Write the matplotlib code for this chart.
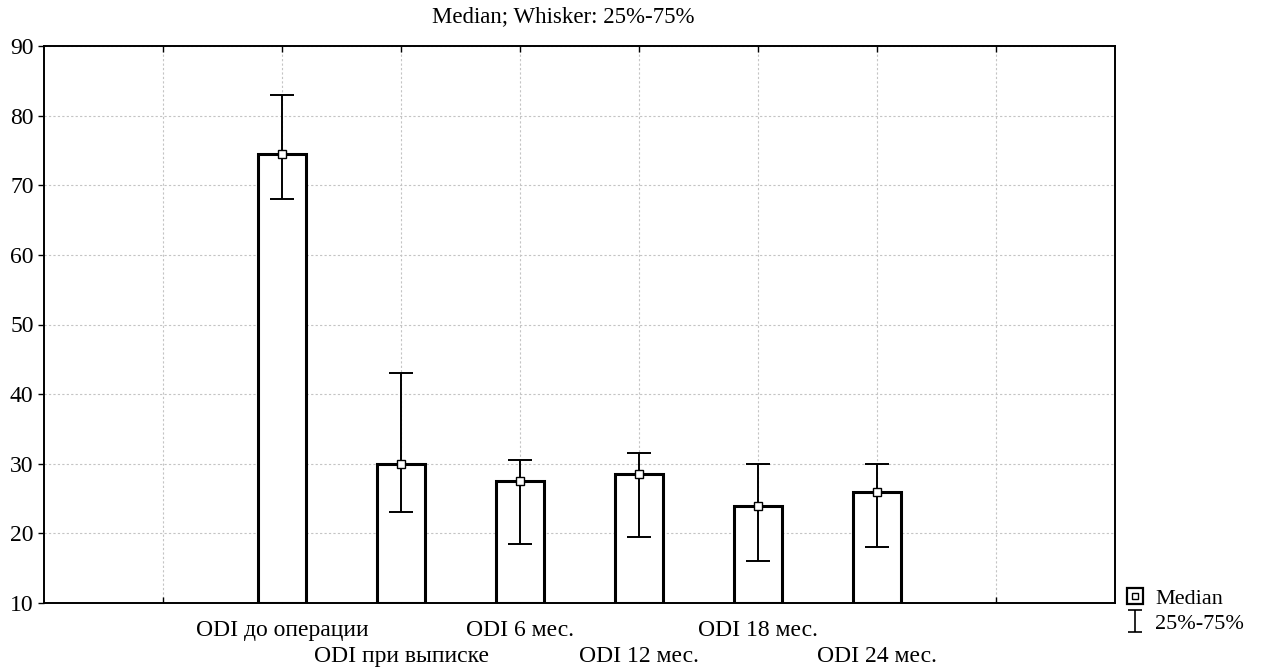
import matplotlib
matplotlib.use("Agg")
import matplotlib.pyplot as plt
from matplotlib.lines import Line2D
from matplotlib.path import Path
from matplotlib.legend_handler import HandlerTuple

plt.rcParams['font.family'] = ['Liberation Serif', 'DejaVu Serif']

categories = ["ODI до операции", "ODI при выписке", "ODI 6 мес.",
              "ODI 12 мес.", "ODI 18 мес.", "ODI 24 мес."]
medians = [74.5, 30.0, 27.5, 28.5, 24.0, 26.0]
q25 = [68.0, 23.0, 18.5, 19.5, 16.0, 18.0]
q75 = [83.0, 43.0, 30.5, 31.5, 30.0, 30.0]
y_ticks = [10, 20, 30, 40, 50, 60, 70, 80, 90]

fig = plt.figure(figsize=(12.62, 6.69), dpi=100)
ax = fig.add_axes([44/1262, 66/669, (1115-44)/1262, (603-46)/669])

x = list(range(2, 2 + len(categories)))
base = 10
ax.bar(x, [m - base for m in medians], bottom=base, width=0.4,
       facecolor='white', edgecolor='black', linewidth=2.2, zorder=3)
yerr = [[m - lo for m, lo in zip(medians, q25)], [hi - m for m, hi in zip(medians, q75)]]
ax.errorbar(x, medians, yerr=yerr, fmt='none', ecolor='black', elinewidth=1.4,
            capsize=8.5, capthick=1.4, zorder=4)
ax.plot(x, medians, linestyle='none', marker='s', markersize=6,
        markerfacecolor='white', markeredgecolor='black', markeredgewidth=1.0, zorder=5)

ax.set_xlim(0, 9)
ax.set_ylim(10, 90)
ax.set_yticks(y_ticks)

# first row of labels on major ticks, second row on minor ticks
major_pos = [1] + x[0::2] + [8]
major_lab = [""] + categories[0::2] + [""]
minor_pos = x[1::2]
minor_lab = categories[1::2]
ax.set_xticks(major_pos)
ax.set_xticklabels(major_lab, fontsize=17)
ax.set_xticks(minor_pos, minor=True)
ax.set_xticklabels(minor_lab, minor=True, fontsize=17)

ax.tick_params(axis='y', labelsize=17, direction='out', length=4, width=1)
ax.tick_params(axis='x', which='major', direction='in', length=4, width=1, top=True, pad=12)
ax.tick_params(axis='x', which='minor', direction='in', length=4, width=1, top=True, pad=31)
ax.grid(True, which='both', axis='x', color='#c4c4c4', linestyle=(0, (2, 2)), linewidth=0.8, zorder=0)
ax.grid(True, which='major', axis='y', color='#c4c4c4', linestyle=(0, (2, 2)), linewidth=0.8, zorder=0)
for s in ax.spines.values():
    s.set_linewidth(1.4)
    s.set_color('black')

fig.text(563/1262, 1 - 17/669, "Median; Whisker: 25%-75%", ha='center', va='center', fontsize=16.5)

# legend
ibeam = Path([(-0.6, -1), (0.6, -1), (0, -1), (0, 1), (-0.6, 1), (0.6, 1)],
             [Path.MOVETO, Path.LINETO, Path.MOVETO, Path.LINETO, Path.MOVETO, Path.LINETO])
h_med_outer = Line2D([], [], linestyle='none', marker='s', markersize=11,
                     markerfacecolor='white', markeredgecolor='black', markeredgewidth=1.6)
h_med_inner = Line2D([], [], linestyle='none', marker='s', markersize=5,
                     markerfacecolor='white', markeredgecolor='black', markeredgewidth=1.0)
h_wh = Line2D([], [], linestyle='none', marker=ibeam, markersize=16,
              markerfacecolor='none', markeredgecolor='black', markeredgewidth=1.2)
ax.legend([(h_med_outer, h_med_inner), h_wh], ["Median", "25%-75%"],
          handler_map={tuple: HandlerTuple(ndivide=1, pad=0)},
          loc='center left', bbox_to_anchor=(1.0035, -0.015), frameon=False,
          fontsize=16, handlelength=0.9, handletextpad=0.45, labelspacing=0.2,
          borderaxespad=0.0, borderpad=0.3)

fig.savefig("out.png", dpi=100)
